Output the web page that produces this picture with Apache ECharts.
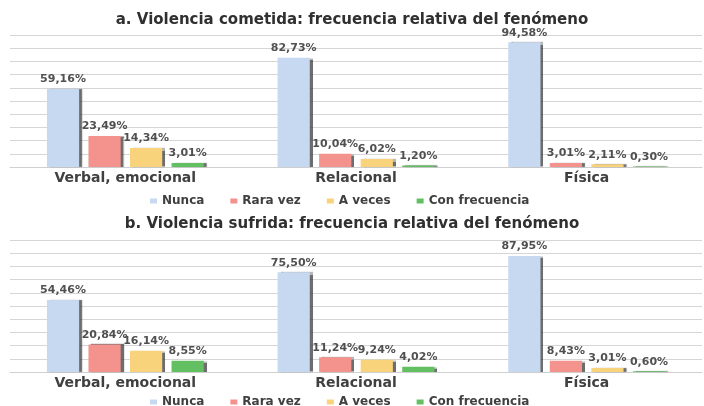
<!DOCTYPE html>
<html><head><meta charset="utf-8">
<script src="https://cdn.jsdelivr.net/npm/echarts@6/dist/echarts.min.js"></script>
<style>html,body{margin:0;padding:0;background:#fff}#c{width:704px;height:406px}</style>
</head><body><div id="c"></div>
<script>
const categories = ['Verbal, emocional', 'Relacional', 'Física'];
const seriesNames = ['Nunca', 'Rara vez', 'A veces', 'Con frecuencia'];
const titleA = 'a. Violencia cometida: frecuencia relativa del fenómeno';
const titleB = 'b. Violencia sufrida: frecuencia relativa del fenómeno';
// a. cometida
const aNunca = [59.16, 82.73, 94.58];
const aRara = [23.49, 10.04, 3.01];
const aVeces = [14.34, 6.02, 2.11];
const aFrec = [3.01, 1.20, 0.30];
// b. sufrida
const bNunca = [54.46, 75.50, 87.95];
const bRara = [20.84, 11.24, 8.43];
const bVeces = [16.14, 9.24, 3.01];
const bFrec = [8.55, 4.02, 0.60];

const colors = ['#c6d9f1', '#f4928e', '#f8d37c', '#62c062'];
const FONT = 'DejaVu Sans';
const chart = echarts.init(document.getElementById('c'));

function mk(name, data, idx, color) {
  return {
    name: name, type: 'bar', xAxisIndex: idx, yAxisIndex: idx,
    data: data, barGap: '29%', barCategoryGap: '32%',
    itemStyle: { color: color, shadowColor: 'rgba(60,60,60,0.75)', shadowOffsetX: 3, shadowBlur: 1 },
    label: {
      show: true, position: 'top', distance: 4, color: '#505050',
      fontFamily: FONT, fontSize: 11, fontWeight: 'bold',
      formatter: p => p.value.toFixed(2).replace('.', ',') + '%'
    }
  };
}
const groupsA = [aNunca, aRara, aVeces, aFrec];
const groupsB = [bNunca, bRara, bVeces, bFrec];
const series = [];
seriesNames.forEach((n, i) => series.push(mk(n, groupsA[i], 0, colors[i])));
seriesNames.forEach((n, i) => series.push(mk(n, groupsB[i], 1, colors[i])));

function xAx(gi) {
  return {
    type: 'category', gridIndex: gi, data: categories,
    axisLine: { lineStyle: { color: '#d0d0d0' } }, axisTick: { show: false },
    axisLabel: { color: '#404040', fontFamily: FONT, fontSize: 14, fontWeight: 'bold', margin: 4 }
  };
}
function yAx(gi) {
  return {
    type: 'value', gridIndex: gi, min: 0, max: 100, interval: 10,
    axisLabel: { show: false }, axisLine: { show: false }, axisTick: { show: false },
    splitLine: { lineStyle: { color: '#d6d6d6', width: 1 } }
  };
}
function legend(top) {
  return {
    top: top, left: 145, itemWidth: 7, itemHeight: 5, icon: 'rect', itemGap: 26,
    textStyle: { color: '#404040', fontFamily: FONT, fontSize: 12, fontWeight: 'bold' },
    data: seriesNames
  };
}
chart.setOption({
  animation: false,
  color: colors,
  title: [
    { text: titleA, left: 'center', top: 8, textStyle: { color: '#303030', fontFamily: FONT, fontSize: 15, fontWeight: 'bold' } },
    { text: titleB, left: 'center', top: 212, textStyle: { color: '#303030', fontFamily: FONT, fontSize: 15, fontWeight: 'bold' } }
  ],
  legend: [ legend(190), legend(391) ],
  grid: [
    { left: 10, right: 2, top: 35, height: 132 },
    { left: 10, right: 2, top: 240, height: 132 }
  ],
  xAxis: [xAx(0), xAx(1)],
  yAxis: [yAx(0), yAx(1)],
  series: series
});
</script></body></html>
